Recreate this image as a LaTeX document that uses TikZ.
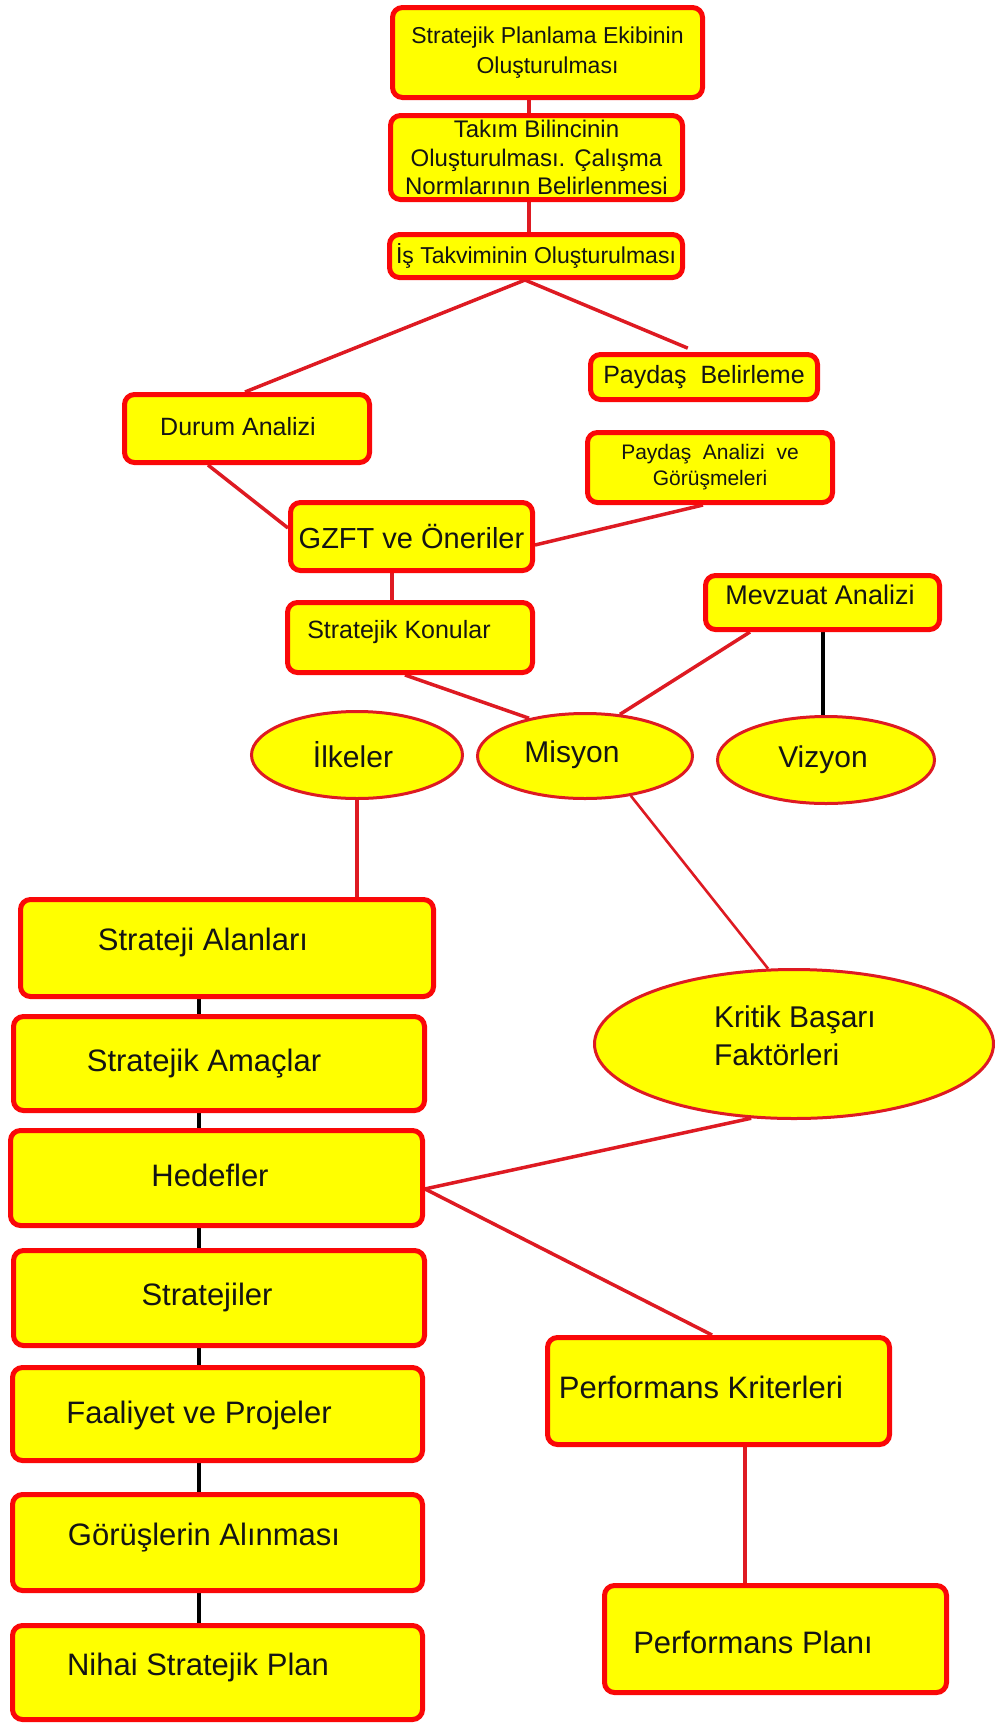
\documentclass[tikz,border=0pt]{standalone}
\usepackage{fontspec}
\setmainfont{Liberation Sans}
\usetikzlibrary{backgrounds,shapes.geometric}
\definecolor{boxred}{RGB}{250,8,8}
\definecolor{linered}{RGB}{222,26,34}
\definecolor{boxyellow}{RGB}{255,255,0}
\definecolor{txt}{RGB}{20,20,20}
\tikzset{
  box/.style={draw=boxred, line width=5pt, fill=boxyellow, rounded corners=10pt, inner sep=0pt, align=center, text=txt},
  oval/.style={ellipse, draw=linered, line width=3pt, fill=boxyellow, inner sep=0pt, text=txt},
  rline/.style={draw=linered, line width=3.5pt},
  rthin/.style={draw=linered, line width=2.6pt},
  bline/.style={draw=black, line width=4pt},
  lab/.style={text=txt, inner sep=0pt, align=center},
  f21/.style={font=\fontsize{21}{26}\selectfont},
  f23/.style={font=\fontsize{23}{30}\selectfont},
  f24/.style={font=\fontsize{24}{28.5}\selectfont},
  f25/.style={font=\fontsize{25}{30}\selectfont},
  f27/.style={font=\fontsize{27}{32}\selectfont},
  f29/.style={font=\fontsize{29}{34}\selectfont},
  f30/.style={font=\fontsize{30}{38}\selectfont},
  f31/.style={font=\fontsize{31}{36}\selectfont}
}
\begin{document}
\begin{tikzpicture}[x=1pt,y=-1pt]
\useasboundingbox (0,0) rectangle (995,1724);

% top chain
\node[box, f23, minimum width=310pt, minimum height=90pt] (b1) at (547.5,52.5) {Stratejik Planlama Ekibinin\\Oluşturulması};
\node[box, f24, minimum width=292pt, minimum height=84pt] (b2) at (536.5,157.5) {Takım Bilincinin\\Oluşturulması. Çalışma\\Normlarının Belirlenmesi};
\node[box, f23, minimum width=293pt, minimum height=43pt] (b3) at (536,256) {İş Takviminin Oluşturulması};

\node[box, f25, minimum width=227pt, minimum height=45pt] (pb) at (704,377) {Paydaş\ \ Belirleme};
\node[box, minimum width=245pt, minimum height=68pt, label={[lab,f25,xshift=-9pt,yshift=1.5pt]center:Durum Analizi}] (da) at (247,428.5) {};
\node[box, f21, minimum width=245pt, minimum height=70pt] (pa) at (710,467.5) {Paydaş\ \ Analizi\ \ ve\\Görüşmeleri};
\node[box, f29, minimum width=242pt, minimum height=68pt] (gz) at (411.5,536.5) {GZFT ve Öneriler};
\node[box, minimum width=245pt, minimum height=70pt, label={[lab,f25,xshift=-11pt,yshift=5.5pt]center:Stratejik Konular}] (sk) at (410,637.5) {};
\node[box, minimum width=234pt, minimum height=54pt, label={[lab,f27,xshift=-2.5pt,yshift=7.5pt]center:Mevzuat Analizi}] (mv) at (822.5,602.5) {};

% ovals
\node[oval, minimum width=211pt, minimum height=87pt, label={[lab,f30,xshift=-4pt]center:İlkeler}] (il) at (357,755) {};
\node[oval, minimum width=215pt, minimum height=85pt, label={[lab,f30,xshift=-13pt,yshift=1pt]center:Misyon}] (mi) at (585,756) {};
\node[oval, minimum width=217pt, minimum height=87pt, label={[lab,f30,xshift=-3pt]center:Vizyon}] (vi) at (826,760) {};
\node[oval, minimum width=399pt, minimum height=149pt, label={[lab,f30,align=left,xshift=1pt,yshift=8pt]center:Kritik Başarı\\Faktörleri}] (kr) at (794,1044) {};

% left column
\node[box, minimum width=413pt, minimum height=97pt, label={[lab,f31,xshift=-24pt,yshift=6pt]center:Strateji Alanları}] (sa) at (227,948) {};
\node[box, minimum width=411pt, minimum height=94pt, label={[lab,f31,xshift=-15pt]center:Stratejik Amaçlar}] (am) at (219,1063.5) {};
\node[box, minimum width=412pt, minimum height=95pt, label={[lab,f31,xshift=-6.5pt,yshift=3pt]center:Hedefler}] (hd) at (216.5,1178) {};
\node[box, minimum width=411pt, minimum height=95pt, label={[lab,f31,xshift=-12pt,yshift=1pt]center:Stratejiler}] (st) at (219,1298) {};
\node[box, minimum width=410pt, minimum height=93pt, label={[lab,f31,xshift=-18.5pt,yshift=-1pt]center:Faaliyet ve Projeler}] (fp) at (217.5,1414) {};
\node[box, minimum width=410pt, minimum height=96pt, label={[lab,f31,xshift=-13.5pt,yshift=4.5pt]center:Görüşlerin Alınması}] (ga) at (217.5,1542.5) {};
\node[box, minimum width=410pt, minimum height=94pt, label={[lab,f31,xshift=-19.5pt,yshift=5.5pt]center:Nihai Stratejik Plan}] (ni) at (217.5,1672.5) {};

% right column
\node[box, minimum width=342pt, minimum height=107pt, label={[lab,f31,xshift=-17.5pt,yshift=4pt]center:Performans Kriterleri}] (pk) at (718.5,1391) {};
\node[box, minimum width=342pt, minimum height=107pt, label={[lab,f31,xshift=-22.5pt,yshift=-3pt]center:Performans Planı}] (pp) at (775.5,1639) {};

\begin{scope}[on background layer]
\fill[white] (0,0) rectangle (995,1724);
\draw[rline] (b1.south -| 529,0) -- (b2.north -| 529,0);
\draw[rline] (b2.south -| 529,0) -- (b3.north -| 529,0);
\draw[rline] (b3.south -| 525,0) -- (da.north -| 245,0);
\draw[rline, shorten >=10pt] (b3.south -| 525,0) -- (pb.north -| 697,0);
\draw[rline] (da.south -| 208,0) -- (gz.west |- 0,528);
\draw[rline] (pa.south -| 703,0) -- (gz.east |- 0,545);
\draw[rline] (gz.south -| 392,0) -- (sk.north -| 392,0);
\draw[rline] (sk.south -| 405,0) -- (mi.146);
\draw[rline] (mv.south -| 750,0) -- (mi.50);
\draw[bline] (mv.south -| 823,0) -- (vi.north -| 823,0);
\draw[rthin] (mi.-41) -- (kr.109);
\draw[rline] (il.south) -- (sa.north -| il.south);
\draw[rline] (kr.-120) -- (hd.-3);
\draw[rline] (hd.-3) -- (pk.north -| 712,0);
\draw[rline] (pk.south -| 745,0) -- (pp.north -| 745,0);
\draw[bline] (sa.south -| 199,0) -- (am.north -| 199,0);
\draw[bline] (am.south -| 199,0) -- (hd.north -| 199,0);
\draw[bline] (hd.south -| 199,0) -- (st.north -| 199,0);
\draw[bline] (st.south -| 199,0) -- (fp.north -| 199,0);
\draw[bline] (fp.south -| 199,0) -- (ga.north -| 199,0);
\draw[bline] (ga.south -| 199,0) -- (ni.north -| 199,0);
\end{scope}
\end{tikzpicture}
\end{document}
